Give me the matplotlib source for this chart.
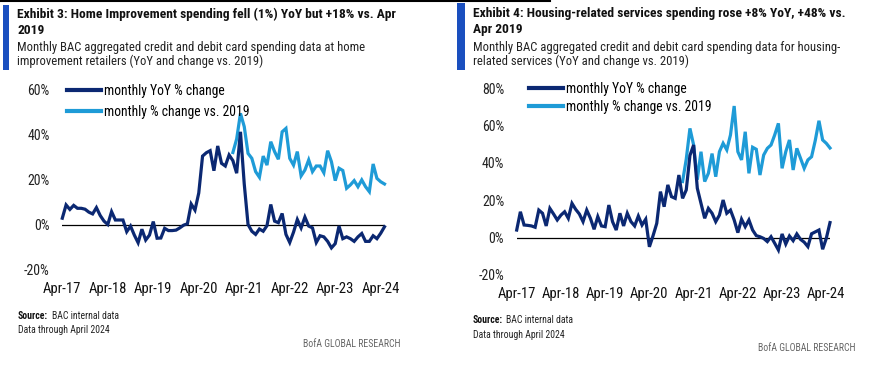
import numpy as np
import matplotlib
matplotlib.use("Agg")
import matplotlib.pyplot as plt
from matplotlib import font_manager
from matplotlib.lines import Line2D
from matplotlib.patches import Rectangle

# ── Data (monthly, index 0 = Apr-17 tick) ──────────────────────────────────────

tick_labels = ["Apr-17", "Apr-18", "Apr-19", "Apr-20", "Apr-21", "Apr-22", "Apr-23", "Apr-24"]

home_yoy = [2.8, 8.7, 6.7, 8.5, 7.2, 7.2, 6.8, 5.5, 4.7, 7.5,
            4.0, 1.5, 0.0, 5.7, 2.0, 2.0, 2.0, -3.2, -0.7, -4.7,
            -8.1, -2.1, -6.9, -4.7, 1.3, -6.1, -6.0, -1.7, -2.7, -2.7,
            -2.5, -1.5, -0.3, 0.3, 9.1, 6.4, 14.0, 30.4, 31.9, 32.8,
            23.9, 34.9, 27.2, 26.0, 30.9, 28.4, 22.8, 41.2, 18.0, 0.0,
            -3.0, -4.4, -2.0, -3.0, -0.5, 8.9, 1.5, 0.8, 4.9, -4.4,
            -8.0, -3.4, 2.2, -1.5, 3.3, -0.7, -1.5, -8.0, -5.0, -5.5,
            -7.5, -10.4, -8.5, -0.7, -6.3, -5.5, -6.3, -7.5, -5.5, -4.0,
            -7.5, -7.5, -5.0, -6.3, -3.9, -1.0]
home_vs19_start = 45
home_vs19 = [32.0, 38.0, 49.4, 43.5, 31.6, 29.4, 23.5, 21.0, 30.4, 26.4,
             36.8, 32.4, 29.0, 41.2, 42.7, 29.4, 26.4, 32.4, 21.6, 24.2,
             28.7, 23.5, 26.0, 26.0, 23.0, 32.8, 27.9, 19.5, 25.0, 24.0,
             16.1, 17.6, 19.5, 16.8, 19.8, 16.8, 14.6, 26.9, 20.5, 19.0,
             18.0]

house_yoy = [4.0, 13.8, 6.7, 6.5, 6.2, 5.5, 14.7, 13.0, 6.2, 15.6,
             12.6, 9.4, 12.0, 13.8, 10.3, 18.3, 15.1, 12.6, 8.5, 14.7,
             10.3, 4.4, 11.2, 6.2, 5.8, 17.4, 8.5, 4.0, 13.0, 6.2,
             13.0, 8.5, 6.2, 11.5, 6.7, 9.8, -5.0, 1.0, 7.6, 24.6,
             16.5, 28.2, 21.9, 21.0, 33.5, 21.0, 25.5, 44.0, 49.6, 26.4,
             18.3, 10.3, 15.6, 13.0, 8.5, 12.0, 20.1, 13.0, 14.7, 9.4,
             2.6, 9.8, 5.8, 9.4, 4.0, 1.0, 0.4, -0.5, -2.2, 0.4,
             -3.1, -6.7, 1.9, -3.5, 0.8, -1.7, 1.9, -1.0, -2.5, -4.9,
             2.0, 3.0, 4.0, -6.3, -0.4, 8.0]
house_vs19_start = 45
house_vs19 = [30.0, 42.0, 58.5, 49.6, 31.0, 46.0, 30.0, 34.4, 45.0, 32.6,
              46.0, 50.5, 47.0, 55.0, 70.5, 46.0, 41.6, 56.7, 34.4, 48.4,
              47.3, 33.5, 44.2, 47.8, 49.6, 55.0, 61.2, 37.1, 46.0, 52.3,
              36.2, 47.8, 42.5, 37.1, 41.6, 43.3, 52.0, 62.6, 52.3, 50.5,
              48.0]

legend_labels = ["monthly YoY % change", "monthly % change vs. 2019"]

# ── Style ──────────────────────────────────────────────────────────────────────

DARK  = "#0b2872"
LIGHT = "#1e9bd7"
BAR   = "#1a4fbf"
W, H  = 871, 369
TITLE_FS = 9.7
SUB_FS   = 9.1

names = {f.name for f in font_manager.fontManager.ttflist}
FONT = ["Liberation Sans Narrow"] if "Liberation Sans Narrow" in names else []
FONT += ["Roboto Condensed"] if "Roboto Condensed" in names else []
FONT += ["Liberation Sans", "DejaVu Sans"]
plt.rcParams["font.family"] = FONT

fig = plt.figure(figsize=(W / 100, H / 100), dpi=100)


def fx(px):
    return px / W


def fy(py):
    return 1 - py / H


def panel(x_left, x_right, y_top, y_bot, ylim, yoy, vs19, vs_start, yticks,
          leg_xy, leg_spacing):
    ax = fig.add_axes([fx(x_left), fy(y_bot), fx(x_right - x_left), fy(y_top) - fy(y_bot)])
    x = np.arange(len(yoy))
    ax.axhline(0, color="black", lw=0.9, zorder=1)
    ax.plot(x, yoy, color=DARK, lw=2.3, solid_joinstyle="miter", zorder=3, clip_on=False)
    xs = np.arange(vs_start, vs_start + len(vs19))
    ax.plot(xs, vs19, color=LIGHT, lw=2.3, solid_joinstyle="miter", zorder=2, clip_on=False)
    ax.set_xlim(0, len(yoy) - 1)
    ax.set_ylim(*ylim)
    ax.set_yticks(yticks)
    ax.set_yticklabels([f"{t}%" for t in yticks], fontsize=10, color="#222222")
    ax.set_xticks(np.arange(0, 85, 12))
    ax.set_xticklabels(tick_labels, fontsize=10.5, color="#111111")
    ax.tick_params(length=0)
    ax.tick_params(axis="y", pad=9)
    ax.tick_params(axis="x", pad=9)
    for s in ax.spines.values():
        s.set_visible(False)
    ax.patch.set_alpha(0)
    handles = [Line2D([], [], color=DARK, lw=3), Line2D([], [], color=LIGHT, lw=3)]
    ax.legend(handles, legend_labels, loc="upper left",
              bbox_to_anchor=(fx(leg_xy[0]), fy(leg_xy[1])), bbox_transform=fig.transFigure,
              frameon=False, fontsize=9.8, handlelength=2.5, handletextpad=0.25,
              borderpad=0, borderaxespad=0, labelspacing=leg_spacing)
    return ax


# ── Left panel: Exhibit 3 ─────────────────────────────────────────────────────

panel(62.3, 384.5, 89.5, 269.5, (-20, 60), home_yoy, home_vs19, home_vs19_start,
      [-20, 0, 20, 40, 60], (67, 84), 0.5)

fig.add_artist(Rectangle((fx(3.3), fy(70)), fx(6), fy(5) - fy(70),
                         transform=fig.transFigure, color=BAR, lw=0))
fig.text(fx(17), fy(14), "Exhibit 3: Home Improvement spending fell (1%) YoY but +18% vs. Apr",
         fontsize=TITLE_FS, fontweight="bold", va="center", color="#111111")
fig.text(fx(17), fy(30), "2019", fontsize=TITLE_FS, fontweight="bold", va="center", color="#111111")
fig.text(fx(17), fy(47), "Monthly BAC aggregated credit and debit card spending data at home",
         fontsize=SUB_FS, va="center", color="#222222")
fig.text(fx(17), fy(61), "improvement retailers (YoY and change vs. 2019)",
         fontsize=SUB_FS, va="center", color="#222222")
fig.text(fx(18), fy(316), "Source:", fontsize=7, fontweight="bold", va="center", color="#111111")
fig.text(fx(51.5), fy(316), "BAC internal data", fontsize=7, va="center", color="#222222")
fig.text(fx(18), fy(330), "Data through April 2024", fontsize=7, va="center", color="#222222")
fig.text(fx(400), fy(344), "BofA GLOBAL RESEARCH", fontsize=7, va="center", ha="right",
         color="#666666")

# ── Right panel: Exhibit 4 ────────────────────────────────────────────────────

panel(516.7, 830, 88.3, 274.8, (-20, 80), house_yoy, house_vs19, house_vs19_start,
      [-20, 0, 20, 40, 60, 80], (529, 82), 0.3)

fig.add_artist(Rectangle((fx(457), fy(70)), fx(8), fy(3) - fy(70),
                         transform=fig.transFigure, color=BAR, lw=0))
fig.text(fx(473), fy(14), "Exhibit 4: Housing-related services spending rose +8% YoY, +48% vs.",
         fontsize=TITLE_FS, fontweight="bold", va="center", color="#111111")
fig.text(fx(473), fy(30), "Apr 2019", fontsize=TITLE_FS, fontweight="bold", va="center", color="#111111")
fig.text(fx(473), fy(47), "Monthly BAC aggregated credit and debit card spending data for housing-",
         fontsize=SUB_FS, va="center", color="#222222")
fig.text(fx(473), fy(61), "related services (YoY and change vs. 2019)",
         fontsize=SUB_FS, va="center", color="#222222")
fig.text(fx(473), fy(320), "Source:", fontsize=7, fontweight="bold", va="center", color="#111111")
fig.text(fx(506), fy(320), "BAC internal data", fontsize=7, va="center", color="#222222")
fig.text(fx(473), fy(335), "Data through April 2024", fontsize=7, va="center", color="#222222")
fig.text(fx(855), fy(348), "BofA GLOBAL RESEARCH", fontsize=7, va="center", ha="right",
         color="#666666")

# top rule
fig.add_artist(Line2D([0, fx(550)], [fy(0.8), fy(0.8)], transform=fig.transFigure,
                      color="black", lw=1.5))

fig.savefig("out.png", dpi=100)
